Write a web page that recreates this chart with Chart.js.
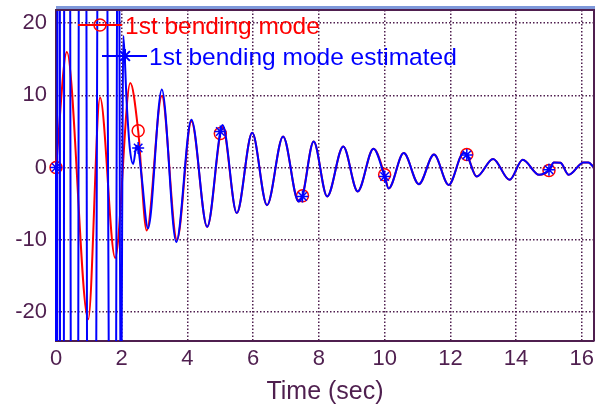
<!DOCTYPE html>
<html>
<head>
<meta charset="utf-8">
<script src="https://cdn.jsdelivr.net/npm/chart.js@4.4.1/dist/chart.umd.min.js"></script>
<style>
    body { margin: 0; background: #ffffff; }
    #wrap { width: 605px; height: 411px; }
</style>
</head>
<body>
<div id="wrap"><canvas id="myChart" width="605" height="411"></canvas></div>
<script>
// measured response (time in sec)
const redTime = [0, 0.33, 0.98, 1.34, 1.8, 2.26, 2.5, 2.76, 3.22, 3.68, 4.12, 4.6, 5.0, 5.07, 5.5, 5.97, 6.42, 6.91, 7.38, 7.5, 7.84, 8.25, 8.74, 9.18, 9.66, 10.0, 10.12, 10.58, 11.04, 11.5, 11.95, 12.4, 12.5, 12.8, 13.3, 13.8, 14.2, 14.7, 15.0, 15.15, 15.35, 15.6, 16.05, 16.2, 16.37];
const redValue = [0, 16, -21, 9.7, -12.5, 11.7, 5.1, -8.7, 9.9, -10, 6.4, -8.2, 4.7, 5.6, -6.3, 4.8, -5.2, 4.3, -4.7, -3.9, 3.6, -4.0, 2.9, -3.3, 2.6, -1.0, -2.9, 2.0, -2.3, 1.8, -2.4, 2.0, 1.8, -1.25, 1.2, -1.7, 1.07, -1.0, -0.4, 0.7, 0.65, -1.0, 0.7, 0.7, 0];

// estimated response
const blueTime = [0, 0.01, 0.07, 0.17, 0.31, 0.57, 0.80, 1.05, 1.40, 1.75, 1.90, 1.97, 2.05, 2.15, 2.25, 2.35, 2.45, 2.5, 2.6, 2.8, 3.22, 3.66, 4.12, 4.6, 5.0, 5.07, 5.5, 5.97, 6.42, 6.91, 7.38, 7.5, 7.84, 8.25, 8.74, 9.18, 9.66, 10.0, 10.12, 10.58, 11.04, 11.5, 11.95, 12.4, 12.5, 12.8, 13.3, 13.8, 14.2, 14.7, 15.0, 15.15, 15.35, 15.6, 16.05, 16.2, 16.37];
const blueValue = [0, -300, 300, -300, 250, -250, 250, -200, 150, -130, 60, -40, 18.2, 9, 2.5, 0.5, 3, 2.7, -1, -8.4, 10.8, -10.3, 6.6, -8.2, 5.0, 5.9, -6.3, 4.8, -5.2, 4.3, -4.7, -4.0, 3.6, -4.0, 2.9, -3.3, 2.6, -1.25, -2.9, 2.0, -2.3, 1.8, -2.4, 2.0, 1.75, -1.25, 1.2, -1.7, 1.07, -1.0, -0.3, 0.7, 0.65, -1.0, 0.7, 0.7, 0];

const markerTimes = [0, 2.5, 5, 7.5, 10, 12.5, 15];
const xTicks = [0, 2, 4, 6, 8, 10, 12, 14, 16];
const yTicks = [-20, -10, 0, 10, 20];
const seriesNames = ['1st bending mode', '1st bending mode estimated'];

const axisColor = '#4f1f4f';
const fontFamily = '"Liberation Sans", Arial, sans-serif';

function toPoints(times, values) {
    return times.map(function (t, i) {
        return {x: t, y: values[i]};
    });
}

function markerRadius(ctx) {
    return markerTimes.includes(ctx.raw.x) ? 6 : 0;
}

// frame + legend drawn like the old figure window
const framePlugin = {
    id: 'frame',
    afterDraw(chart) {
        const c = chart.ctx;
        const a = chart.chartArea;
        c.save();
        c.fillStyle = '#7e98da';
        c.fillRect(a.left, a.top - 4, a.right - a.left + 1, 3);
        c.strokeStyle = axisColor;
        c.lineWidth = 2;
        c.beginPath();
        c.moveTo(a.left, a.top);
        c.lineTo(a.right, a.top);
        c.lineTo(a.right, a.bottom);
        c.stroke();

        // legend entries
        c.font = '24.5px ' + fontFamily;
        c.textBaseline = 'middle';
        c.lineWidth = 2;

        c.strokeStyle = '#ff0000';
        c.fillStyle = '#ff0000';
        c.beginPath();
        c.moveTo(a.left + 22, a.top + 15);
        c.lineTo(a.left + 66, a.top + 15);
        c.stroke();
        c.lineWidth = 1.5;
        c.beginPath();
        c.arc(a.left + 44, a.top + 15, 6, 0, Math.PI * 2);
        c.stroke();
        c.fillText(seriesNames[0], a.left + 69, a.top + 17);

        c.strokeStyle = '#0000ff';
        c.fillStyle = '#0000ff';
        c.lineWidth = 2;
        c.beginPath();
        c.moveTo(a.left + 46, a.top + 46);
        c.lineTo(a.left + 91, a.top + 46);
        c.stroke();
        const sx = a.left + 69, sy = a.top + 46, r = 7;
        c.beginPath();
        c.moveTo(sx, sy - r); c.lineTo(sx, sy + r);
        c.moveTo(sx - r * 0.7, sy - r * 0.7); c.lineTo(sx + r * 0.7, sy + r * 0.7);
        c.moveTo(sx - r * 0.7, sy + r * 0.7); c.lineTo(sx + r * 0.7, sy - r * 0.7);
        c.stroke();
        c.fillText(seriesNames[1], a.left + 93, a.top + 48);
        c.restore();
    }
};

document.addEventListener("DOMContentLoaded", function () {
    const ctx = document.getElementById('myChart').getContext('2d');
    const chart = new Chart(ctx, {
        type: 'line',
        data: {
            datasets: [{
                label: seriesNames[0],
                data: toPoints(redTime, redValue),
                order: 2,
                clip: {left: 10, top: 0, right: 0, bottom: 0},
                borderColor: '#ff0000',
                borderWidth: 2,
                cubicInterpolationMode: 'monotone',
                pointStyle: 'circle',
                pointRadius: markerRadius,
                pointBorderWidth: 1.5,
                pointBorderColor: '#ff0000',
                pointBackgroundColor: 'rgba(0,0,0,0)'
            }, {
                label: seriesNames[1],
                data: toPoints(blueTime, blueValue),
                order: 1,
                clip: {left: 10, top: 0, right: 0, bottom: 0},
                borderColor: '#0000ff',
                borderWidth: 2,
                cubicInterpolationMode: 'monotone',
                pointStyle: 'star',
                pointRadius: markerRadius,
                pointBorderWidth: 1.5,
                pointBorderColor: '#0000ff',
                pointBackgroundColor: 'rgba(0,0,0,0)'
            }]
        },
        options: {
            responsive: false,
            animation: false,
            events: [],
            layout: {padding: {top: 10, right: 11, left: 0, bottom: 0}},
            plugins: {
                legend: {display: false},
                tooltip: {enabled: false}
            },
            scales: {
                x: {
                    type: 'linear',
                    min: 0,
                    max: 16.37,
                    afterBuildTicks: function (scale) {
                        scale.ticks = xTicks.map(v => ({value: v}));
                    },
                    afterFit: function (scale) {
                        scale.height = 70;
                        scale.paddingLeft = 0;
                        scale.paddingRight = 0;
                    },
                    grid: {
                        color: axisColor,
                        lineWidth: 1.5,
                        drawTicks: false
                    },
                    border: {display: true, color: axisColor, width: 2, dash: [1.5, 2]},
                    ticks: {
                        color: axisColor,
                        padding: 5,
                        maxRotation: 0,
                        autoSkip: false,
                        font: {family: fontFamily, size: 22}
                    },
                    title: {
                        display: true,
                        text: 'Time (sec)',
                        color: axisColor,
                        padding: {top: 0, bottom: 4},
                        font: {family: fontFamily, size: 25}
                    }
                },
                y: {
                    min: -24,
                    max: 21.8,
                    afterBuildTicks: function (scale) {
                        scale.ticks = yTicks.map(v => ({value: v}));
                    },
                    afterFit: function (scale) {
                        scale.width = 56;
                        scale.paddingTop = 0;
                        scale.paddingBottom = 0;
                    },
                    grid: {
                        color: axisColor,
                        lineWidth: 1.5,
                        drawTicks: false
                    },
                    border: {display: true, color: axisColor, width: 2, dash: [1.5, 2]},
                    ticks: {
                        color: axisColor,
                        padding: 9,
                        font: {family: fontFamily, size: 22}
                    }
                }
            }
        },
        plugins: [framePlugin]
    });
});
</script>
</body>
</html>
